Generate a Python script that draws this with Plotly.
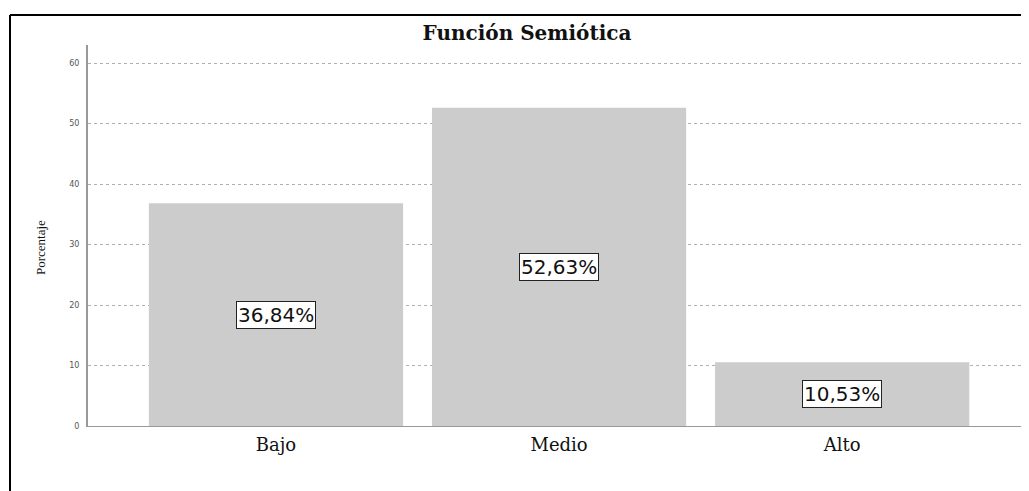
import plotly.graph_objects as go

categories = ["Bajo", "Medio", "Alto"]
values = [36.84, 52.63, 10.53]
tick_vals = [0, 10, 20, 30, 40, 50, 60]

OFF = 8  # page body margin
W, H = 1029, 491 - OFF
L, R, T = 88 - OFF, 8, 45 - OFF
B = H - (426 - OFF)
pw = W - L - R
ph = H - T - B


def py(screen_y):
    return (H - B - (screen_y - OFF)) / ph


def px(screen_x):
    return (screen_x - OFF - L) / pw


fig = go.Figure()
fig.add_trace(go.Bar(
    x=categories, y=values,
    marker=dict(color="#cccccc", line=dict(width=0)),
    hoverinfo="skip",
))

for c, v in zip(categories, values):
    fig.add_annotation(
        x=c, y=v / 2, xref="x", yref="y",
        text=f"{v:.2f}".replace(".", ",") + "%",
        showarrow=False,
        font=dict(family="DejaVu Sans", size=20, color="#111111"),
        bgcolor="white", bordercolor="#222222", borderwidth=1, borderpad=1,
    )

# y-axis title
fig.add_annotation(
    x=px(40), y=py(248), xref="paper", yref="paper",
    xanchor="center", yanchor="middle",
    text="Porcentaje", textangle=-90, showarrow=False,
    font=dict(family="Liberation Serif, Times New Roman", size=13, color="#111111"),
)

# outer frame (top and left edges)
fig.add_shape(type="line", xref="paper", yref="paper",
              x0=px(10), x1=1.05, y0=py(15), y1=py(15),
              line=dict(color="black", width=2))
fig.add_shape(type="line", xref="paper", yref="paper",
              x0=px(10), x1=px(10), y0=py(15), y1=-0.3,
              line=dict(color="black", width=2))

fig.update_layout(
    width=W, height=H,
    margin=dict(l=L, r=R, t=T, b=B),
    paper_bgcolor="white", plot_bgcolor="white",
    showlegend=False,
    bargap=0.102,
    title=dict(text="<b>Función Semiótica</b>", xref="container", x=(527 - OFF) / W,
               xanchor="center", yref="container", y=1 - (33 - OFF) / H, yanchor="middle",
               font=dict(family="DejaVu Serif", size=20, color="#111111")),
    xaxis=dict(
        type="category", range=[-0.664, 2.66],
        showgrid=False, showline=True, linecolor="#999999", linewidth=1,
        ticks="", ticklabelstandoff=2,
        tickfont=dict(family="DejaVu Serif", size=18, color="#111111"),
        fixedrange=True,
    ),
    yaxis=dict(
        range=[0, 63], tickvals=tick_vals,
        showgrid=True, gridcolor="#b0b0b0", griddash="dot", gridwidth=1,
        showline=True, linecolor="#999999", linewidth=2,
        zeroline=True, zerolinecolor="#999999", zerolinewidth=1,
        ticks="", ticklabelstandoff=5,
        tickfont=dict(family="DejaVu Sans", size=8, color="#555555"),
        fixedrange=True,
    ),
)

fig.write_html("out.html")
